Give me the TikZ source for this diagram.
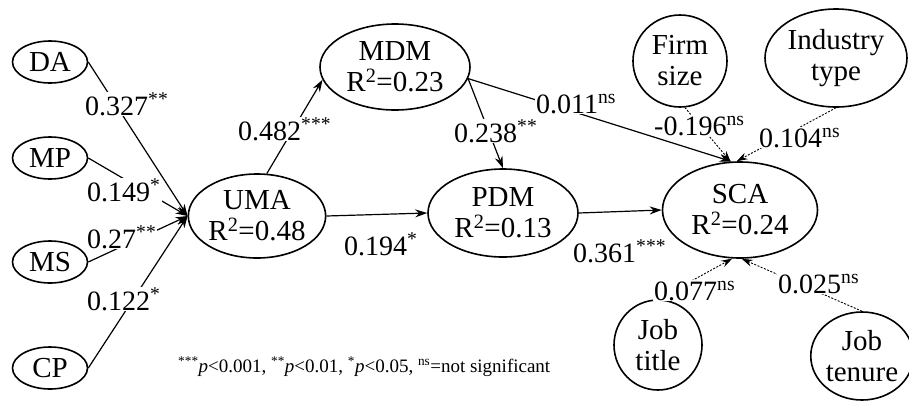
\documentclass[tikz,border=0pt]{standalone}
\usepackage{fontspec}
\setmainfont{Liberation Serif}
\usetikzlibrary{shapes.geometric,arrows.meta}
\begin{document}
\begin{tikzpicture}[x=1pt,y=-1pt,
 lat/.style={ellipse,draw,line width=1.6pt,inner sep=0pt,font=\fontsize{29}{31}\selectfont,align=center},
 lbl/.style={fill=white,inner sep=1pt,anchor=base west,font=\fontsize{28}{30}\selectfont},
 conn/.style={line width=1.2pt,-{Stealth[length=12pt,width=8pt]}},
 ctrl/.style={line width=0.9pt,dash pattern=on 2pt off 1.5pt,-{Stealth[length=11pt,width=7pt]}},
]
\useasboundingbox (0,0) rectangle (909,402);
% nodes
\node[lat,minimum width=75pt,minimum height=42pt] (da) at (50,62) {DA};
\node[lat,minimum width=75pt,minimum height=42pt] (mp) at (50,158) {MP};
\node[lat,minimum width=75pt,minimum height=42pt] (ms) at (50,262) {MS};
\node[lat,minimum width=75pt,minimum height=42pt] (cp) at (50,368) {CP};
\node[lat,minimum width=125pt,minimum height=84pt] (uma) at (257,216) {UMA\\R\textsuperscript{2}=0.48};
\node[lat,minimum width=150pt,minimum height=86pt] (mdm) at (395,67) {MDM\\R\textsuperscript{2}=0.23};
\node[lat,minimum width=150pt,minimum height=88pt] (pdm) at (503,213) {PDM\\R\textsuperscript{2}=0.13};
\node[lat,minimum width=155pt,minimum height=96pt] (sca) at (740,210) {SCA\\R\textsuperscript{2}=0.24};
\node[lat,minimum width=94pt,minimum height=92pt] (firm) at (680,61) {Firm\\size};
\node[lat,minimum width=142pt,minimum height=98pt] (ind) at (836,58) {Industry\\type};
\node[lat,minimum width=88pt,minimum height=90pt] (jt) at (658,345) {Job\\title};
\node[lat,minimum width=97pt,minimum height=88pt] (jten) at (862,356) {Job\\tenure};
% connectors
\draw[conn] (da.east) -- (uma.west);
\draw[conn] (mp.east) -- (uma.west);
\draw[conn] (ms.east) -- (uma.west);
\draw[conn] (cp.east) -- (uma.west);
\draw[conn] (uma.77) -- (mdm.190);
\draw[conn] (uma.east) -- (pdm.west);
\draw[conn] (mdm.-9) -- (pdm.north);
\draw[conn] (mdm.-9) -- (sca.100);
\draw[conn] (pdm.east) -- (sca.west);
\draw[ctrl] (firm.-84) -- (sca.101);
\draw[ctrl] (ind.south) -- (sca.94);
\draw[ctrl] (jt.north) -- (sca.-99);
\draw[ctrl] (jten.north) -- (sca.-88);
% labels
\node[lbl] (l1) at (84,115) {0.327\textsuperscript{**}};
\node[lbl] (l2) at (86,201) {0.149\textsuperscript{*}};
\node[lbl] (l3) at (86,248) {0.27\textsuperscript{**}};
\node[lbl] (l4) at (86,310) {0.122\textsuperscript{*}};
\node[lbl] (l5) at (237,140) {0.482\textsuperscript{***}};
\node[lbl] (l6) at (453,142) {0.238\textsuperscript{**}};
\node[lbl] (l7) at (535,113) {0.011\textsuperscript{ns}};
\node[lbl] (l8) at (343,255) {0.194\textsuperscript{*}};
\node[lbl] (l9) at (572,262) {0.361\textsuperscript{***}};
\node[lbl] (l10) at (653,135) {-0.196\textsuperscript{ns}};
\node[lbl] (l11) at (758,147) {0.104\textsuperscript{ns}};
\node[lbl] (l12) at (653,300) {0.077\textsuperscript{ns}};
\node[lbl] (l13) at (777,293) {0.025\textsuperscript{ns}};
\node[anchor=base west,inner sep=0pt,font=\fontsize{19}{21}\selectfont] (leg) at (178,372)
 {\textsuperscript{***}\textit{p}<0.001, \textsuperscript{**}\textit{p}<0.01, \textsuperscript{*}\textit{p}<0.05, \textsuperscript{ns}=not significant};
\end{tikzpicture}
\end{document}
